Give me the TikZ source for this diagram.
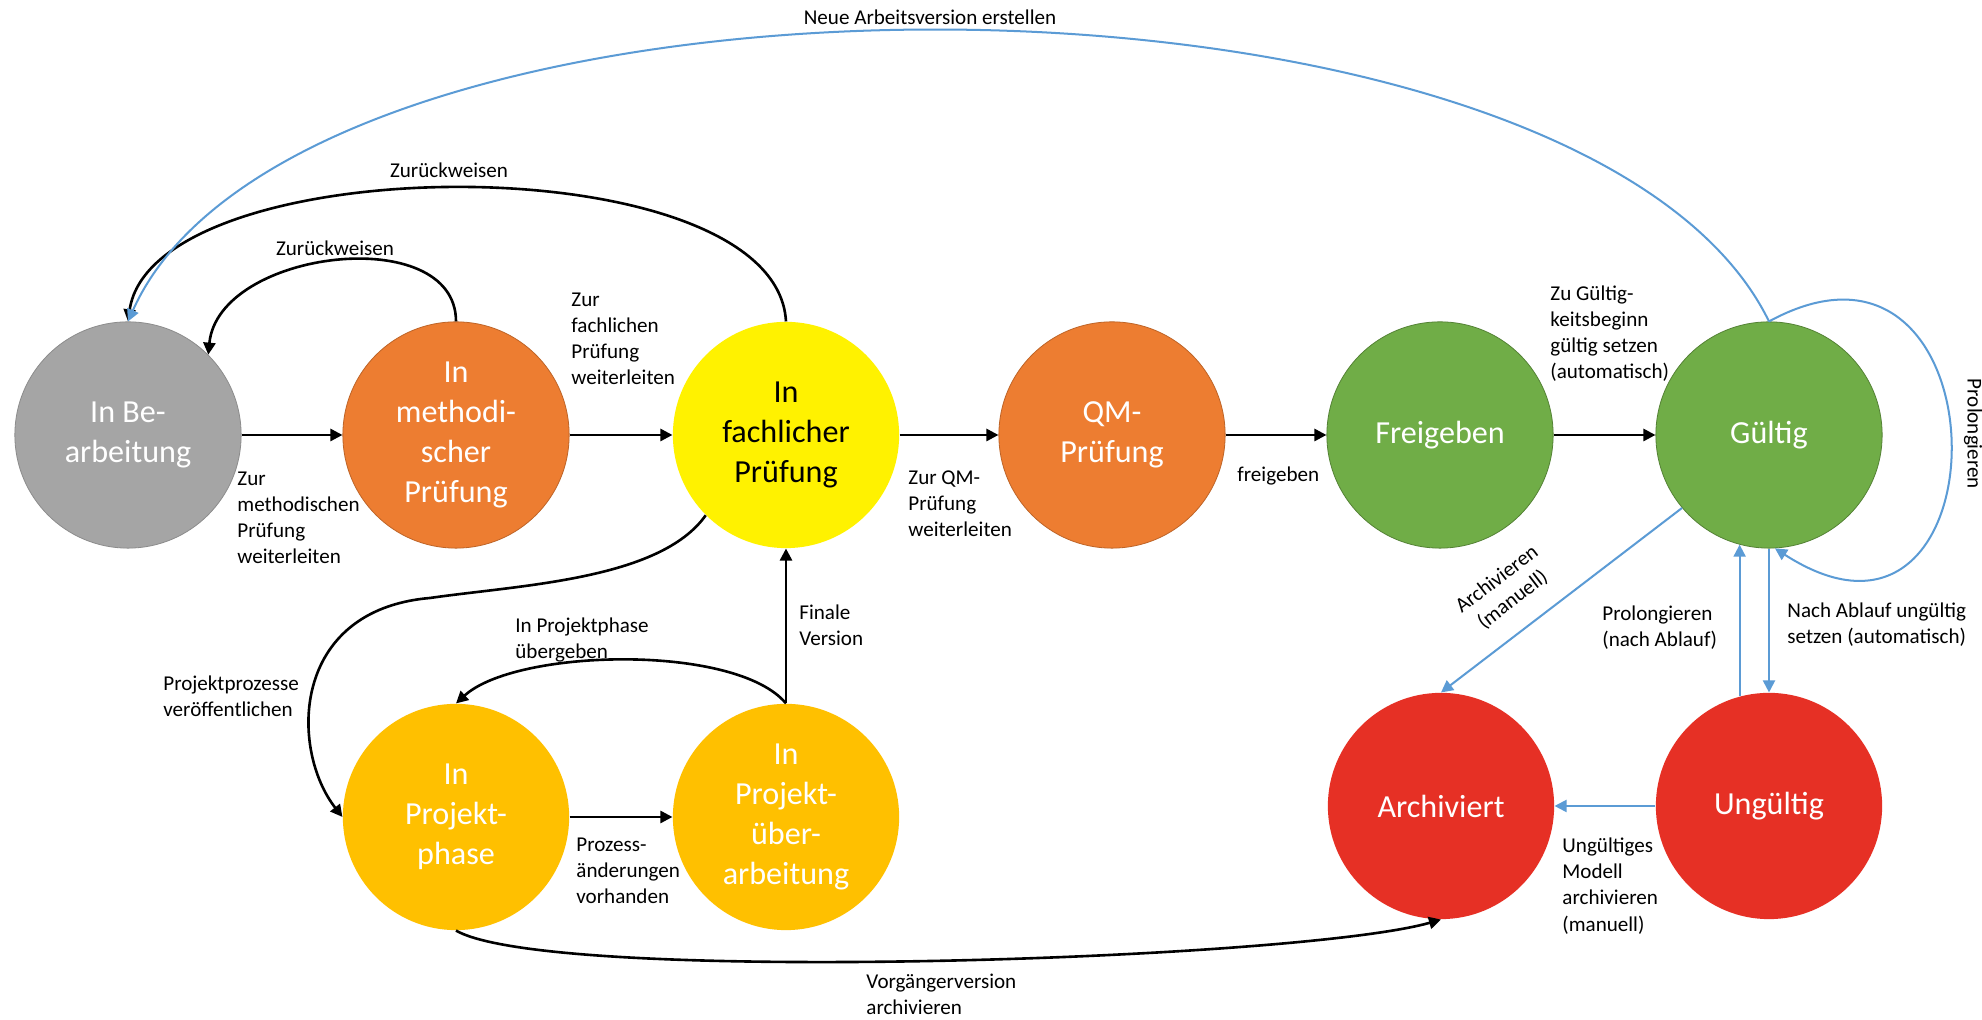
\documentclass[tikz,border=0pt]{standalone}
\usepackage{fontspec}
\setmainfont{Carlito}
\usetikzlibrary{arrows.meta}

\definecolor{grayfill}{HTML}{A5A5A5}
\definecolor{grayline}{HTML}{8C8C8C}
\definecolor{orangefill}{HTML}{ED7D31}
\definecolor{orangeline}{HTML}{BE6427}
\definecolor{goldfill}{HTML}{FFC000}
\definecolor{greenfill}{HTML}{70AD47}
\definecolor{greenline}{HTML}{548235}
\definecolor{redfill}{HTML}{E63025}
\definecolor{arrowblue}{HTML}{5B9BD5}

\begin{document}
\begin{tikzpicture}[x=1.75cm,y=1.75cm,
	state/.style={circle,minimum size=3.96cm,inner sep=0pt,align=center,text=white,font=\fontsize{16}{20}\selectfont},
	lbl/.style={inner sep=0pt,align=left,font=\fontsize{10.5}{13}\selectfont},
	flow/.style={line width=1.3pt,-{Triangle[length=6pt,width=6pt]}},
	blueflow/.style={arrowblue,line width=1pt,-{Triangle[length=6pt,width=6pt]}}]
		\useasboundingbox[fill=white] (0,0) rectangle (19.82,10.2);
		% states
		\node[state,fill=grayfill,draw=grayline] (bearb) at (1.28,5.85) {In Be-\\arbeitung};
		\node[state,fill=orangefill,draw=orangeline] (method) at (4.56,5.85) {In\\methodi-\\scher\\Prüfung};
		\node[state,fill=yellow,text=black] (fach) at (7.86,5.85) {In\\fachlicher\\Prüfung};
		\node[state,fill=orangefill,draw=orangeline] (qm) at (11.12,5.85) {QM-\\Prüfung};
		\node[state,fill=greenfill,draw=greenline] (frei) at (14.40,5.85) {Freigeben};
		\node[state,fill=greenfill,draw=greenline] (gueltig) at (17.69,5.85) {Gültig};
		\node[state,fill=goldfill] (phase) at (4.56,2.03) {In\\Projekt-\\phase};
		\node[state,fill=goldfill] (ueber) at (7.86,2.03) {In\\Projekt-\\über-\\arbeitung};
		\node[state,fill=redfill] (archiv) at (14.41,2.14) {Archiviert};
		\node[state,fill=redfill] (ungueltig) at (17.69,2.14) {Ungültig};
		% black transitions
		\draw[flow] (bearb) -- (method);
		\draw[flow] (method) -- (fach);
		\draw[flow] (fach) -- (qm);
		\draw[flow] (qm) -- (frei);
		\draw[flow] (frei) -- (gueltig);
		\draw[flow] (method.north) .. controls +(0,1.0) and +(0.1,1.05) .. (bearb.45);
		\draw[flow] (fach.north) .. controls +(-0.1,1.8) and +(0.25,1.75) .. (bearb.north);
		\draw[flow] (fach.225) .. controls (6.6,4.4) and (5.2,4.35) .. (4.3,4.22) .. controls (2.9,4.1) and (2.9,2.7) .. (phase.west);
		\draw[flow] (phase) -- (ueber);
		\draw[flow] (ueber.north) .. controls +(-0.5,0.6) and +(0.6,0.55) .. (phase.north);
		\draw[flow] (ueber.north) -- (fach.south);
		\draw[flow] (phase.south) .. controls (5.5,0.35) and (13.0,0.6) .. (archiv.south);
		% blue transitions
		\draw[blueflow] (gueltig.north) .. controls (15.8,10.86) and (3.0,10.86) .. (bearb.north);
		\draw[blueflow] (gueltig.north) .. controls (20.1,8.3) and (20.1,3.2) .. (gueltig.273);
		\draw[blueflow] (gueltig.220) -- (archiv.north);
		\draw[blueflow] (ungueltig.105) -- (gueltig.255);
		\draw[blueflow] (gueltig.south) -- (ungueltig.north);
		\draw[blueflow] (ungueltig) -- (archiv);
		% labels
		\node[lbl] (lneu) at (9.30,10.03) {Neue Arbeitsversion erstellen};
		\node[lbl] (lzurueck1) at (4.49,8.50) {Zurückweisen};
		\node[lbl] (lzurueck2) at (3.35,7.72) {Zurückweisen};
		\node[lbl,anchor=west] (lmethod) at (2.37,5.02) {Zur\\methodischen\\Prüfung\\weiterleiten};
		\node[lbl,anchor=west] (lfach) at (5.71,6.81) {Zur\\fachlichen\\Prüfung\\weiterleiten};
		\node[lbl,anchor=west] (lqm) at (9.08,5.16) {Zur QM-\\Prüfung\\weiterleiten};
		\node[lbl,anchor=west] (lfrei) at (12.37,5.44) {freigeben};
		\node[lbl,anchor=west] (lgueltig) at (15.50,6.865) {Zu Gültig-\\keitsbeginn\\gültig setzen\\(automatisch)};
		\node[lbl,align=center,rotate=37.5] (larchiv) at (15.05,4.30) {Archivieren\\(manuell)};
		\node[lbl,anchor=west] (lprolong) at (16.02,3.92) {Prolongieren\\(nach Ablauf)};
		\node[lbl,anchor=west] (lablauf) at (17.87,3.95) {Nach Ablauf ungültig\\setzen (automatisch)};
		\node[lbl,rotate=-90] (lloop) at (19.73,5.86) {Prolongieren};
		\node[lbl,anchor=west] (lungueltig) at (15.62,1.34) {Ungültiges\\Modell\\archivieren\\(manuell)};
		\node[lbl,anchor=west] (lprozesse) at (1.63,3.24) {Projektprozesse\\veröffentlichen};
		\node[lbl,anchor=west] (luebergabe) at (5.15,3.80) {In Projektphase\\übergeben};
		\node[lbl,anchor=west] (lfinal) at (7.99,3.95) {Finale\\Version};
		\node[lbl,anchor=west] (laenderung) at (5.76,1.49) {Prozess-\\änderungen\\vorhanden};
		\node[lbl,anchor=west] (lvorgaenger) at (8.66,0.26) {Vorgängerversion\\archivieren};
\end{tikzpicture}
\end{document}
